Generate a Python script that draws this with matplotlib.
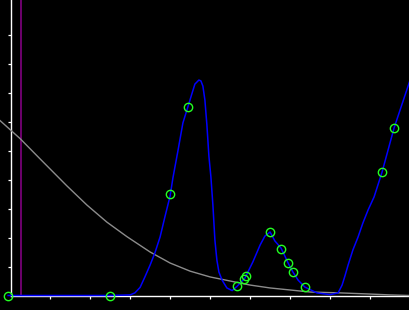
import matplotlib
matplotlib.use("Agg")
import matplotlib.pyplot as plt

# --- data ------------------------------------------------------------------
# sample points (green circles)
pts_x = [-0.06, 2.49, 4.00, 4.43, 5.67, 5.84, 5.89, 6.48, 6.77, 6.94, 7.07, 7.37, 9.29, 9.59]
pts_y = [0.00, 0.00, 3.50, 6.50, 0.32, 0.56, 0.67, 2.18, 1.62, 1.11, 0.80, 0.28, 4.26, 5.78]

# smooth fitted curve (blue)
fit_x = [-0.06, 2.49, 2.99, 3.11, 3.24, 3.36, 3.49, 3.61, 3.74, 3.86, 3.99,
         4.06, 4.19, 4.31, 4.44, 4.54, 4.61, 4.71, 4.76, 4.81, 4.86, 4.91,
         4.96, 5.01, 5.06, 5.11, 5.16, 5.21, 5.29, 5.41, 5.54, 5.66, 5.86,
         6.06, 6.24, 6.36, 6.49, 6.61, 6.76, 6.86, 6.94, 7.06, 7.19, 7.36,
         7.66, 7.99, 8.19, 8.29, 8.36, 8.44, 8.56, 8.69, 8.81, 8.94, 9.09,
         9.29, 9.59, 9.99]
fit_y = [0.00, 0.00, 0.02, 0.09, 0.28, 0.64, 1.05, 1.47, 2.02, 2.71, 3.43,
         4.05, 5.02, 5.95, 6.53, 6.98, 7.29, 7.43, 7.40, 7.22, 6.74, 5.88,
         4.81, 4.09, 3.12, 1.91, 1.22, 0.81, 0.53, 0.26, 0.17, 0.31, 0.60,
         1.16, 1.74, 2.05, 2.19, 1.88, 1.64, 1.36, 1.12, 0.81, 0.53, 0.29,
         0.09, 0.03, 0.09, 0.36, 0.67, 1.05, 1.57, 2.02, 2.50, 2.95, 3.40,
         4.26, 5.78, 7.43]

# decaying envelope (gray)
env_x = [-0.26, 0.24, 0.74, 1.41, 1.91, 2.41, 2.91, 3.49, 3.99, 4.49, 4.99,
         5.49, 5.99, 6.49, 6.99, 7.49, 8.24, 8.99, 9.49, 9.99]
env_y = [6.03, 5.41, 4.71, 3.78, 3.12, 2.53, 2.03, 1.50, 1.12, 0.84, 0.64,
         0.50, 0.36, 0.26, 0.19, 0.12, 0.09, 0.05, 0.02, 0.00]

marker_x = 0.26   # purple vertical line

# --- figure ------------------------------------------------------------------
fig = plt.figure(figsize=(4.1, 3.1), dpi=100, facecolor="black")
ax = fig.add_axes([0, 0, 1, 1], facecolor="black")
ax.set_xlim(-0.2625, 9.9875)
ax.set_ylim(-0.5, 10.19)

ax.vlines(marker_x, 0, 10.19, color="#800080", lw=1.2, zorder=2)
ax.plot(env_x, env_y, color="#8c8c8c", lw=1.0, zorder=3)
ax.plot(fit_x, fit_y, color="#0000ff", lw=1.1, zorder=4)
ax.plot(pts_x, pts_y, "o", ms=6, mfc="none", mec="#22ff22", mew=1.0, zorder=5)

for side in ["top", "right"]:
    ax.spines[side].set_visible(False)
ax.spines["left"].set_position(("data", 0))
ax.spines["bottom"].set_position(("data", 0))
ax.spines["left"].set_bounds(0, 10.19)
ax.spines["bottom"].set_bounds(0, 9.9875)
for side in ["left", "bottom"]:
    ax.spines[side].set_color("white")
    ax.spines[side].set_linewidth(1.0)

ax.set_xticks(range(1, 10))
ax.set_yticks(range(1, 10))
ax.tick_params(colors="white", direction="out", length=2.4, width=0.9,
               labelleft=False, labelbottom=False)

fig.savefig("out.png", dpi=100, facecolor="black")
